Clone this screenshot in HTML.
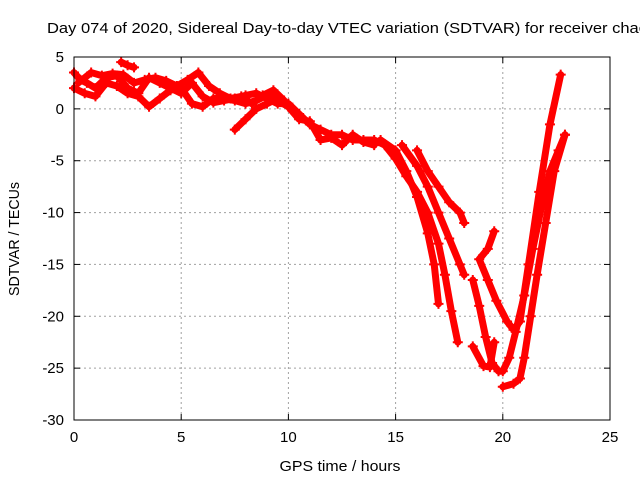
<!DOCTYPE html>
<html><head><meta charset="utf-8"><style>
body{margin:0;background:#fff;width:640px;height:480px;overflow:hidden}
svg{font-family:"Liberation Sans",sans-serif}
</style></head><body>
<svg id="chart" width="640" height="480">
<text x="47" y="33" font-size="15" textLength="600" lengthAdjust="spacingAndGlyphs">Day 074 of 2020, Sidereal Day-to-day VTEC variation (SDTVAR) for receiver chac</text>
<text x="340" y="471" font-size="15" textLength="121" lengthAdjust="spacingAndGlyphs" text-anchor="middle">GPS time / hours</text>
<text transform="translate(19,239) rotate(-90)" font-size="15" textLength="114" lengthAdjust="spacingAndGlyphs" text-anchor="middle">SDTVAR / TECUs</text>
<g id="grid"></g><g id="marks"></g><g id="axes"></g>
</svg>
<script>
const xTicks=[0,5,10,15,20,25];
const yTicks=[5,0,-5,-10,-15,-20,-25,-30];
const trackEarly1T=[0,0.3,0.6,1,1.5,2,2.5,3,3.5,4,4.5,5,5.5,6,6.5,7,7.5,8,8.5,9,9.5,10,10.5,11,11.5,12,12.5,13,13.5,14,14.5];
const trackEarly1V=[3.5,2.8,2.5,2,3,3.2,2,1.5,3,2.5,2,1.5,2.5,1.2,0.6,0.8,1,1.3,1.5,1,0.5,0.5,-0.5,-1.5,-2,-2.5,-2.5,-3,-3,-3,-3.5];
const trackEarly2T=[0,0.5,1,1.5,2,2.5,3,3.5,4,4.5,5,5.5,6,6.5,7,7.5,8,8.5,9,9.5,10,10.5,11,11.5,12,12.5,13,13.5,14];
const trackEarly2V=[2,1.5,1.2,2.5,2.2,1.5,1.2,0.2,1,1.8,2,0.5,0.2,1,1,0.8,0.5,0.8,1.3,0.8,0.2,-1,-1.2,-3,-2.8,-3.5,-2.5,-3.2,-3.5];
const trackEarly3T=[0.2,0.8,1.3,1.8,2.3,2.8,3.3,3.8,4.3,4.8,5.3,5.8,6.3,6.8,7.3,7.8,8.3,8.8,9.3,9.8];
const trackEarly3V=[2.5,3.5,3.2,3.4,3.3,2.5,2.8,3,2.7,2.2,2.8,3.5,2.2,1.5,1,1.2,0.5,1.3,1.8,0.8];
const spur1T=[7.5,8,8.5,9,9.5];
const spur1V=[-2,-1,0,0.5,1];
const spur2T=[2.2,2.5,2.8];
const spur2V=[4.5,4.2,4];
const desc1T=[14.3,15,15.5,16,16.5,16.8,17];
const desc1V=[-3,-4,-6,-8.5,-12,-15,-18.8];
const desc2T=[14.5,15,15.5,16,16.5,17,17.3,17.6,17.9];
const desc2V=[-3.5,-4.8,-6.5,-8,-10,-13,-16,-19.5,-22.5];
const desc3T=[15.3,16,16.5,17,17.5,18,18.2];
const desc3V=[-3.5,-5.5,-7.5,-10,-12.5,-15,-16];
const desc4T=[16,16.5,17,17.5,18,18.2];
const desc4V=[-4,-6,-7.5,-9,-10,-11];
const vee1T=[18.6,18.9,19.2,19.5,19.8,20,20.3,20.6,21,21.4,21.8,22.2,22.6,22.9];
const vee1V=[-16.5,-19,-22,-24.5,-25.3,-25.3,-24,-21.5,-18,-13.5,-9.5,-6,-4,-2.5];
const vee2T=[19.6,19.3,18.9,19.3,19.7,20.2,20.5,20.8,21.2,21.7,22.2,22.7];
const vee2V=[-11.8,-13.5,-14.5,-16.5,-18.5,-20.5,-21.3,-20.5,-15,-8,-1.5,3.3];
const vee3T=[20,20.5,20.8,21,21.3,21.6,22,22.4,22.9];
const vee3V=[-26.8,-26.5,-26,-24,-20,-16,-11,-6,-2.5];
const short1T=[18.6,19.1,19.4,19.6];
const short1V=[-22.9,-24.8,-24.9,-22.5];
const tracks=[[trackEarly1T,trackEarly1V],[trackEarly2T,trackEarly2V],[trackEarly3T,trackEarly3V],[spur1T,spur1V],[spur2T,spur2V],[desc1T,desc1V],[desc2T,desc2V],[desc3T,desc3V],[desc4T,desc4V],[vee1T,vee1V],[vee2T,vee2V],[vee3T,vee3V],[short1T,short1V]];
const L=74,R=610,T=57,B=420;
const xS=h=>L+(h-0)/(25-0)*(R-L);
const yS=v=>T+(5-v)/(5+30)*(B-T);
const NS="http://www.w3.org/2000/svg";
function mk(tag,attrs,parent){const e=document.createElementNS(NS,tag);for(const k in attrs)e.setAttribute(k,attrs[k]);parent.appendChild(e);return e;}
const grid=document.getElementById('grid'),marks=document.getElementById('marks'),axes=document.getElementById('axes');
xTicks.forEach(t=>{const x=xS(t);
 if(t>0&&t<25){const g=mk('line',{x1:x,x2:x,y1:T,y2:B,stroke:'#a0a0a0','stroke-dasharray':'2,3'},grid);
 
 }
 mk('line',{x1:x,x2:x,y1:B,y2:B-6,stroke:'#000'},axes);mk('line',{x1:x,x2:x,y1:T,y2:T+6,stroke:'#000'},axes);
 const tx=mk('text',{x:x,y:B+22,'font-size':15,'text-anchor':'middle'},axes);tx.textContent=t;
 
 });
yTicks.forEach(t=>{const y=yS(t);
 if(t<5&&t>-30){const g=mk('line',{x1:L,x2:R,y1:y,y2:y,stroke:'#a0a0a0','stroke-dasharray':'2,3'},grid);
 
 }
 mk('line',{x1:L,x2:L+6,y1:y,y2:y,stroke:'#000'},axes);mk('line',{x1:R,x2:R-6,y1:y,y2:y,stroke:'#000'},axes);
 const tx=mk('text',{x:L-10,y:y+5,'font-size':15,'text-anchor':'end'},axes);tx.textContent=t;
 
 });
const fr=mk('rect',{x:L,y:T,width:R-L,height:B-T,fill:'none',stroke:'#000'},axes);


tracks.forEach(([ts,vs])=>{
 const pts=ts.map((t,i)=>xS(t)+','+yS(vs[i])).join(' ');
 const pl=mk('polyline',{points:pts,fill:'none',stroke:'#f00','stroke-width':7,'stroke-linejoin':'round','stroke-linecap':'round'},marks);
 
 
 ts.forEach((t,i)=>{const x=xS(t),y=yS(vs[i]);
  const p=mk('path',{d:`M${x-5},${y}H${x+5}M${x},${y-5}V${y+5}`,stroke:'#f00','stroke-width':2},marks);
  
  });
});
</script>
</body></html>
